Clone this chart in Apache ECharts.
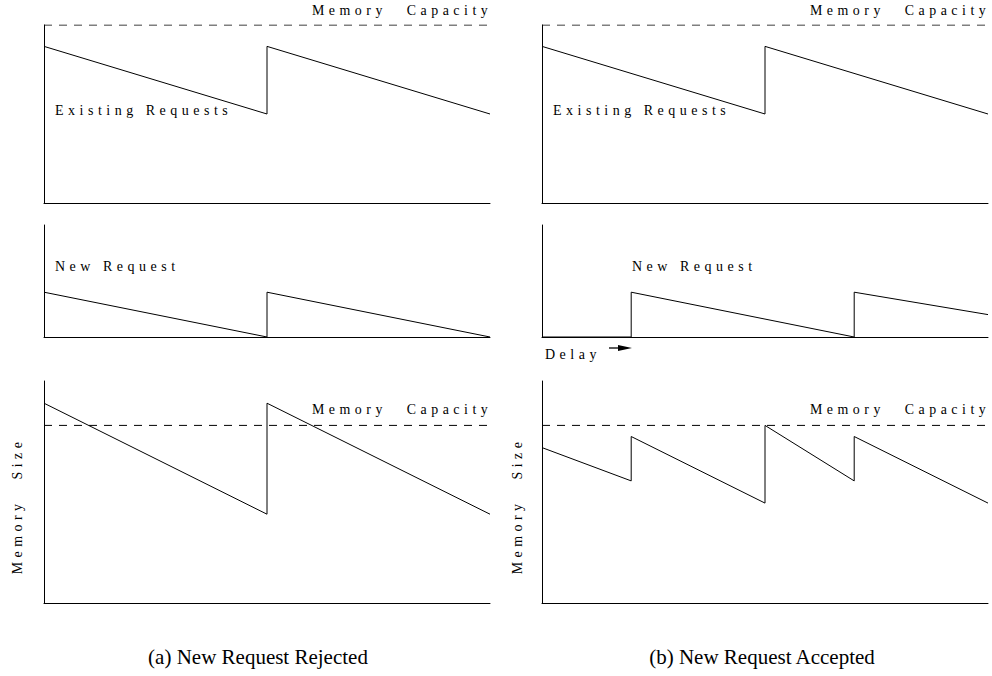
<!DOCTYPE html>
<html>
<head>
<meta charset="utf-8">
<script src="https://cdn.jsdelivr.net/npm/echarts@6/dist/echarts.min.js"></script>
<style>
  html, body { margin: 0; padding: 0; background: #fff; }
  #chart { width: 992px; height: 676px; }
  #chart text[style*="14px"] { letter-spacing: 4.5px; }
  #chart text[style*="13.9px"] { letter-spacing: 4.5px; word-spacing: 12px; }
</style>
</head>
<body>
<div id="chart"></div>
<script>
// ---- data (x = normalized time, y = memory size in % of panel range) ----
const capacityTop = 100;          // row 1 memory capacity
const capacityBottom = 80;        // row 3 memory capacity

const existingX = [0, 0.5, 0.5, 1.0];
const existingY = [88, 50, 88, 50];

const newReqRejX = [0, 0.5, 0.5, 1.0];
const newReqRejY = [40, 0, 40, 0];

const newReqAccX = [0, 0.2, 0.2, 0.7, 0.7, 1.0];
const newReqAccY = [0, 0, 40, 0, 40, 20];

const totalRejX = [0, 0.5, 0.5, 1.0];
const totalRejY = [90, 40, 90, 40];

const totalAccX = [0, 0.2, 0.2, 0.5, 0.5, 0.7, 0.7, 1.0];
const totalAccY = [70, 55, 75, 45, 80, 55, 75, 45];

const captions = ['(a) New Request Rejected', '(b) New Request Accepted'];

function pairs(xs, ys) { return xs.map((x, i) => [x, ys[i]]); }

const chart = echarts.init(document.getElementById('chart'), null, { renderer: 'svg' });

const grids = [
  { left: 44, width: 446, top: 25, height: 178 },
  { left: 542, width: 446, top: 25, height: 178 },
  { left: 44, width: 446, top: 225, height: 112 },
  { left: 542, width: 446, top: 225, height: 112 },
  { left: 44, width: 446, top: 381, height: 222 },
  { left: 542, width: 446, top: 381, height: 222 }
];

const axisCommon = {
  type: 'value',
  axisLine: { show: true, onZero: false, lineStyle: { color: '#000', width: 1 } },
  axisTick: { show: false },
  axisLabel: { show: false },
  splitLine: { show: false }
};

const xAxes = grids.map((g, i) => Object.assign({}, axisCommon, { gridIndex: i, min: 0, max: 1 }));
const yAxes = grids.map((g, i) => Object.assign({}, axisCommon, { gridIndex: i, min: 0, max: 100 }));

function line(idx, data, dashed) {
  return {
    type: 'line', xAxisIndex: idx, yAxisIndex: idx, data: data,
    symbol: 'none', silent: true, animation: false,
    lineStyle: { color: '#000', width: 1, type: dashed ? [8, 7] : 'solid' }
  };
}

const series = [
  line(0, [[0, capacityTop], [1, capacityTop]], true),
  line(0, pairs(existingX, existingY)),
  line(1, [[0, capacityTop], [1, capacityTop]], true),
  line(1, pairs(existingX, existingY)),
  line(2, pairs(newReqRejX, newReqRejY)),
  line(3, pairs(newReqAccX, newReqAccY)),
  line(4, [[0, capacityBottom], [1, capacityBottom]], true),
  line(4, pairs(totalRejX, totalRejY)),
  line(5, [[0, capacityBottom], [1, capacityBottom]], true),
  line(5, pairs(totalAccX, totalAccY))
];

const SERIF = "'Liberation Serif', 'Times New Roman', serif";
function label(text, x, y, opts) {
  opts = opts || {};
  return {
    type: 'text', x: x, y: y, rotation: opts.rotation || 0, silent: true,
    style: {
      text: text, fill: '#000', fontFamily: SERIF,
      fontSize: opts.size || 14,
      align: opts.align || 'left', verticalAlign: 'middle'
    }
  };
}

const graphic = [
  label('Memory Capacity', 312, 10, { size: 13.9 }),
  label('Memory Capacity', 810, 10, { size: 13.9 }),
  label('Existing Requests', 55, 110),
  label('Existing Requests', 553, 110),
  label('New Request', 55, 266),
  label('New Request', 632, 266),
  label('Delay', 545, 354),
  label('Memory Capacity', 312, 409, { size: 13.9 }),
  label('Memory Capacity', 810, 409, { size: 13.9 }),
  label('Memory Size', 17, 506, { size: 13.9, align: 'center', rotation: Math.PI / 2 }),
  label('Memory Size', 517, 506, { size: 13.9, align: 'center', rotation: Math.PI / 2 }),
  {
    type: 'line', silent: true,
    shape: { x1: 609, y1: 348, x2: 620, y2: 348 },
    style: { stroke: '#000', lineWidth: 1.3 }
  },
  {
    type: 'polygon', silent: true,
    shape: { points: [[618, 345], [632, 348], [618, 351]] },
    style: { fill: '#000' }
  },
  {
    type: 'text', x: 258, y: 657, silent: true,
    style: { text: captions[0], fill: '#000', fontFamily: SERIF, fontSize: 21, align: 'center', verticalAlign: 'middle' }
  },
  {
    type: 'text', x: 762, y: 657, silent: true,
    style: { text: captions[1], fill: '#000', fontFamily: SERIF, fontSize: 21, align: 'center', verticalAlign: 'middle' }
  }
];

chart.setOption({
  animation: false,
  backgroundColor: '#fff',
  grid: grids,
  xAxis: xAxes,
  yAxis: yAxes,
  series: series,
  graphic: graphic
});
</script>
</body>
</html>
